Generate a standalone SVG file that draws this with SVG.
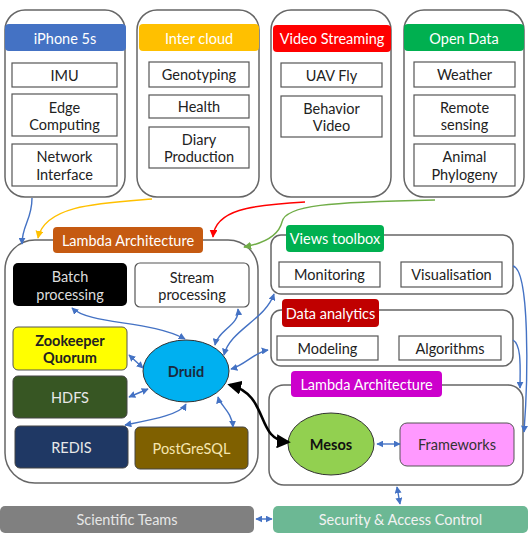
<svg xmlns="http://www.w3.org/2000/svg" width="531" height="540" viewBox="0 0 531 540">
<defs>
<style>
.cont{fill:#fff;stroke:#666;stroke-width:1.5}
.inner{fill:#fff;stroke:#555;stroke-width:1.2}
.t{font-family:Lato,"Open Sans","Liberation Sans",sans-serif;font-size:14.5px;text-anchor:middle;dominant-baseline:central;fill:#222}
.hw{fill:#fff}
.b{font-weight:bold}
.bl{fill:none;stroke:#4472c4;stroke-width:1.4}
</style>
<marker id="ab" viewBox="0 0 10 10" refX="9" refY="5" markerWidth="7" markerHeight="7" markerUnits="userSpaceOnUse" orient="auto-start-reverse"><path d="M0,0 L10,5 L0,10 z" fill="#4472c4"/></marker>
<marker id="ay" viewBox="0 0 10 10" refX="9" refY="5" markerWidth="8" markerHeight="8" markerUnits="userSpaceOnUse" orient="auto"><path d="M0,0 L10,5 L0,10 z" fill="#ffc000"/></marker>
<marker id="ar" viewBox="0 0 10 10" refX="9" refY="5" markerWidth="8" markerHeight="8" markerUnits="userSpaceOnUse" orient="auto"><path d="M0,0 L10,5 L0,10 z" fill="#ff0000"/></marker>
<marker id="ag" viewBox="0 0 10 10" refX="9" refY="5" markerWidth="8" markerHeight="8" markerUnits="userSpaceOnUse" orient="auto"><path d="M0,0 L10,5 L0,10 z" fill="#70ad47"/></marker>
<marker id="ak" viewBox="0 0 10 10" refX="8" refY="5" markerWidth="14" markerHeight="14" markerUnits="userSpaceOnUse" orient="auto-start-reverse"><path d="M0,0 L10,5 L0,10 z" fill="#000"/></marker>
</defs>
<rect width="531" height="540" fill="#fff"/>

<g id="iphone">
<rect class="cont" x="5" y="10" width="120" height="187" rx="20"/>
<rect x="5" y="24" width="121" height="27" rx="4" fill="#4472c4"/>
<text class="t hw" x="65" y="38">iPhone 5s</text>
<rect class="inner" x="12" y="63" width="105" height="24"/>
<text class="t" x="64.5" y="75">IMU</text>
<rect class="inner" x="12" y="94" width="105" height="42"/>
<text class="t" x="64.5" y="107">Edge</text>
<text class="t" x="64.5" y="124">Computing</text>
<rect class="inner" x="12" y="144" width="105" height="42"/>
<text class="t" x="64.5" y="156">Network</text>
<text class="t" x="64.5" y="174">Interface</text>
</g>

<g id="intercloud">
<rect class="cont" x="137" y="10" width="122" height="187" rx="20"/>
<rect x="139" y="24" width="120" height="27" rx="4" fill="#ffc000"/>
<text class="t hw" x="199" y="38">Inter cloud</text>
<rect class="inner" x="149" y="62" width="100" height="25"/>
<text class="t" x="199" y="74.5">Genotyping</text>
<rect class="inner" x="149" y="95" width="100" height="23"/>
<text class="t" x="199" y="106.5">Health</text>
<rect class="inner" x="149" y="127" width="100" height="41"/>
<text class="t" x="199" y="139">Diary</text>
<text class="t" x="199" y="156">Production</text>
</g>

<g id="video">
<rect class="cont" x="271" y="10" width="120" height="187" rx="20"/>
<rect x="273" y="25" width="118" height="27" rx="4" fill="#ff0000"/>
<text class="t hw" x="332" y="38.5">Video Streaming</text>
<rect class="inner" x="281" y="63" width="101" height="24"/>
<text class="t" x="331.5" y="75">UAV Fly</text>
<rect class="inner" x="281" y="96" width="101" height="41"/>
<text class="t" x="331.5" y="108">Behavior</text>
<text class="t" x="331.5" y="125">Video</text>
</g>

<g id="opendata">
<rect class="cont" x="404" y="10" width="120" height="187" rx="20"/>
<rect x="404" y="24" width="120" height="27" rx="4" fill="#00b050"/>
<text class="t hw" x="464" y="38">Open Data</text>
<rect class="inner" x="414" y="62" width="101" height="25"/>
<text class="t" x="464.5" y="74.5">Weather</text>
<rect class="inner" x="414" y="95" width="101" height="41"/>
<text class="t" x="464.5" y="107">Remote</text>
<text class="t" x="464.5" y="124">sensing</text>
<rect class="inner" x="414" y="144" width="101" height="42"/>
<text class="t" x="464.5" y="156">Animal</text>
<text class="t" x="464.5" y="174">Phylogeny</text>
</g>

<g id="lambda-left">
<rect class="cont" x="5" y="240" width="253" height="243" rx="30"/>
<rect x="53" y="227" width="150" height="26" rx="4" fill="#c55a11"/>
<text class="t hw" x="128" y="240">Lambda Architecture</text>
</g>
<g id="batch">
<rect x="13" y="263" width="114" height="43" rx="5" fill="#000"/>
<text class="t" fill="#ddd" style="fill:#ddd" x="70" y="276">Batch</text>
<text class="t" style="fill:#ddd" x="70" y="294">processing</text>
</g>
<g id="stream">
<rect class="inner" x="135" y="263" width="114" height="44" rx="5"/>
<text class="t" x="192" y="277">Stream</text>
<text class="t" x="192" y="294">processing</text>
</g>
<g id="zookeeper">
<rect x="13" y="327" width="114" height="43" rx="5" fill="#ffff00" stroke="#555" stroke-width="1"/>
<text class="t b" x="70" y="340">Zookeeper</text>
<text class="t b" x="70" y="357">Quorum</text>
</g>
<g id="hdfs">
<rect x="13" y="376" width="114" height="42" rx="5" fill="#375623" stroke="#444" stroke-width="1"/>
<text class="t" style="fill:#e8e8e8" x="70" y="397">HDFS</text>
</g>
<g id="redis">
<rect x="15" y="426" width="113" height="42" rx="5" fill="#1f3864" stroke="#444" stroke-width="1"/>
<text class="t" style="fill:#e8e8e8" x="71.5" y="447">REDIS</text>
</g>
<g id="postgresql">
<rect x="135" y="427" width="113" height="42" rx="5" fill="#7f6000" stroke="#444" stroke-width="1"/>
<text class="t" style="fill:#f5e6b0" x="191.5" y="448">PostGreSQL</text>
</g>
<g id="druid">
<ellipse cx="186" cy="371" rx="43" ry="31" fill="#00b0f0" stroke="#333" stroke-width="1"/>
<text class="t b" style="fill:#1a2a40" x="186" y="371">Druid</text>
</g>

<g id="views">
<rect class="cont" x="271" y="235" width="242" height="59" rx="10"/>
<rect x="286" y="225" width="98" height="27" rx="4" fill="#00b050"/>
<text class="t hw" x="335" y="238.5">Views toolbox</text>
<rect class="inner" x="279" y="262" width="101" height="25"/>
<text class="t" x="329.5" y="274.5">Monitoring</text>
<rect class="inner" x="401" y="262" width="101" height="25"/>
<text class="t" x="451.5" y="274.5">Visualisation</text>
</g>

<g id="analytics">
<rect class="cont" x="271" y="310" width="242" height="56" rx="10"/>
<rect x="282" y="299" width="97" height="28" rx="4" fill="#c00000"/>
<text class="t hw" x="330.5" y="313">Data analytics</text>
<rect class="inner" x="277" y="336" width="101" height="24"/>
<text class="t" x="327.5" y="348">Modeling</text>
<rect class="inner" x="399" y="336" width="102" height="24"/>
<text class="t" x="450" y="348">Algorithms</text>
</g>

<g id="lambda-right">
<rect class="cont" x="269" y="385" width="254" height="100" rx="15"/>
<rect x="291" y="371" width="151" height="26" rx="4" fill="#cc00cc"/>
<text class="t hw" x="366.5" y="384">Lambda Architecture</text>
</g>
<g id="mesos">
<ellipse cx="331" cy="444" rx="43" ry="31" fill="#92d050" stroke="#333" stroke-width="1"/>
<text class="t b" style="fill:#111" x="331" y="444">Mesos</text>
</g>
<g id="frameworks">
<rect x="400" y="423" width="114" height="43" rx="7" fill="#ff99ff" stroke="#555" stroke-width="1"/>
<text class="t" style="fill:#333" x="457" y="444.5">Frameworks</text>
</g>

<g id="scientific">
<rect x="0" y="506" width="254" height="27" rx="5" fill="#808080"/>
<text class="t" style="fill:#e6e6e6" x="127" y="519.5">Scientific Teams</text>
</g>
<g id="security">
<rect x="273" y="506" width="255" height="27" rx="5" fill="#6cb894"/>
<text class="t" style="fill:#f2f2f2" x="400.5" y="519.5">Security &amp; Access Control</text>
</g>

<g id="connectors">
<path class="bl" d="M32 198 C32 220 22 225 22 244" marker-end="url(#ab)"/>
<path d="M152 199 C100 203 45 205 38 238" fill="none" stroke="#ffc000" stroke-width="1.4" marker-end="url(#ay)"/>
<path d="M305 202 C250 205 215 210 213 237" fill="none" stroke="#ff0000" stroke-width="1.4" marker-end="url(#ar)"/>
<path d="M435 200 C330 202 285 205 282 222 C278 238 260 244 244 247" fill="none" stroke="#70ad47" stroke-width="1.4" marker-end="url(#ag)"/>
<path class="bl" d="M72 308 C90 325 150 320 185 339" marker-start="url(#ab)" marker-end="url(#ab)"/>
<path class="bl" d="M238 309 C240 325 218 330 215 345" marker-start="url(#ab)" marker-end="url(#ab)"/>
<path class="bl" d="M274 294 C265 320 230 330 224 355" marker-start="url(#ab)" marker-end="url(#ab)"/>
<path class="bl" d="M268 350 C255 352 245 365 231 369" marker-start="url(#ab)" marker-end="url(#ab)"/>
<path class="bl" d="M129 355 L143 368" marker-start="url(#ab)" marker-end="url(#ab)"/>
<path class="bl" d="M129 397 L148 389" marker-start="url(#ab)" marker-end="url(#ab)"/>
<path class="bl" d="M125 425 C150 420 180 415 186 404" marker-start="url(#ab)" marker-end="url(#ab)"/>
<path class="bl" d="M233 427 C232 412 220 405 218 397" marker-start="url(#ab)" marker-end="url(#ab)"/>
<path d="M230 385 C270 395 255 440 288 442" fill="none" stroke="#000" stroke-width="2.6" marker-start="url(#ak)" marker-end="url(#ak)"/>
<path class="bl" d="M377 444 L400 444" marker-start="url(#ab)" marker-end="url(#ab)"/>
<path class="bl" d="M513 266 C530 270 528 380 524 432" marker-end="url(#ab)"/>
<path class="bl" d="M513 340 C522 345 520 370 520 388" marker-end="url(#ab)"/>
<path class="bl" d="M397 487 L400 504" marker-start="url(#ab)" marker-end="url(#ab)"/>
<path class="bl" d="M256 519 L272 519" marker-start="url(#ab)" marker-end="url(#ab)"/>
</g>
</svg>
